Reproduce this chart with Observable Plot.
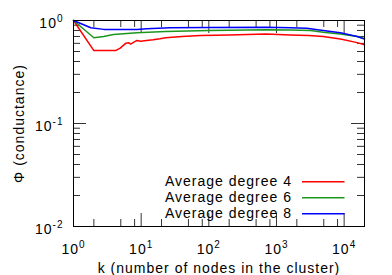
<!DOCTYPE html>
<html>
<head>
<meta charset="utf-8">
<script src="https://cdn.jsdelivr.net/npm/d3@7"></script>
<script src="https://cdn.jsdelivr.net/npm/@observablehq/plot@0.6"></script>
<style>
  html, body { margin: 0; padding: 0; background: #fff; }
</style>
</head>
<body>
<div id="chart"></div>
<script>
// ---- data ----
const seriesLabels = ["Average degree 4", "Average degree 6", "Average degree 8"];
const seriesColors = ["#ff0000", "#1c961c", "#0000ff"];

const kDeg4 = [1, 2, 4.2, 4.9, 5.9, 6.6, 7, 7.8, 8.7, 9.8, 12, 15, 19, 23, 40, 75, 200, 700, 1600, 3000, 4900, 8800, 15600, 20000];
const phiDeg4 = [1.0, 0.51, 0.51, 0.54, 0.60, 0.607, 0.59, 0.616, 0.64, 0.63, 0.64, 0.65, 0.664, 0.68, 0.70, 0.715, 0.725, 0.74, 0.725, 0.715, 0.70, 0.66, 0.61, 0.58];

const kDeg6 = [1, 2, 2.8, 3.9, 8.7, 23, 100, 700, 1600, 3200, 4900, 8800, 15600, 20000];
const phiDeg6 = [1.0, 0.68, 0.70, 0.73, 0.76, 0.78, 0.80, 0.815, 0.81, 0.80, 0.77, 0.74, 0.70, 0.67];

const kDeg8 = [1, 1.8, 2.8, 8.7, 12, 27, 100, 700, 1600, 2800, 4900, 8800, 15600, 20000];
const phiDeg8 = [1.0, 0.85, 0.82, 0.82, 0.83, 0.85, 0.855, 0.86, 0.85, 0.84, 0.80, 0.76, 0.70, 0.66];

const xMajorTicks = [1, 10, 100, 1000, 10000];
const xMinorTicks = [2, 5, 8, 20, 50, 80, 200, 500, 800, 2000, 5000, 8000];
const yMajorTicks = [0.01, 0.1, 1];
const yMinorTicks = [0.02, 0.03, 0.04, 0.05, 0.06, 0.07, 0.08, 0.09, 0.2, 0.3, 0.4, 0.5, 0.6, 0.7, 0.8, 0.9];

const xTitle = "k (number of nodes in the cluster)";
const yTitle = "Φ (conductance)";

// ---- build ----
const zip = (ks, vs, s) => ks.map((k, i) => ({k, v: vs[i], s}));
const lines = [
  zip(kDeg4, phiDeg4, 0),
  zip(kDeg6, phiDeg6, 1),
  zip(kDeg8, phiDeg8, 2)
];

const W = 392, H = 275;
const mL = 73, mR = 28, mT = 20, mB = 49;
const FW = W - mL - mR, FH = H - mT - mB;
const major = 13, minor = 7;
const tickColor = "#333";
const expFmt = d => "10^" + Math.round(Math.log10(d));

const plot = Plot.plot({
  width: W, height: H,
  marginLeft: mL, marginRight: mR, marginTop: mT, marginBottom: mB,
  style: {fontFamily: "'Liberation Sans', Arial, Helvetica, sans-serif", fontSize: "14px", letterSpacing: "1px", color: "#000", background: "#fff"},
  x: {type: "log", domain: [1, 20000]},
  y: {type: "log", domain: [0.01, 1]},
  marks: [
    // tick marks (inside, mirrored)
    Plot.tickX(xMajorTicks, {x: d => d, insetTop: FH - major, stroke: tickColor}),
    Plot.tickX(xMajorTicks, {x: d => d, insetBottom: FH - major, stroke: tickColor}),
    Plot.tickX(xMinorTicks, {x: d => d, insetTop: FH - minor, stroke: tickColor}),
    Plot.tickX(xMinorTicks, {x: d => d, insetBottom: FH - minor, stroke: tickColor}),
    Plot.tickY(yMajorTicks, {y: d => d, insetRight: FW - major, stroke: tickColor}),
    Plot.tickY(yMajorTicks, {y: d => d, insetLeft: FW - major, stroke: tickColor}),
    Plot.tickY(yMinorTicks, {y: d => d, insetRight: FW - minor, stroke: tickColor}),
    Plot.tickY(yMinorTicks, {y: d => d, insetLeft: FW - minor, stroke: tickColor}),
    // data
    ...lines.map((d, i) => Plot.line(d, {x: "k", y: "v", stroke: seriesColors[i], strokeWidth: 1.5})),
    Plot.frame({stroke: "#000", strokeWidth: 1}),
    // axes
    Plot.axisX({ticks: xMajorTicks, tickSize: 0, tickPadding: 18, tickFormat: expFmt,
      label: xTitle, labelAnchor: "center", labelOffset: 46}),
    Plot.axisY({ticks: yMajorTicks, tickSize: 0, tickPadding: 10, tickFormat: expFmt, dy: 3,
      label: yTitle, labelAnchor: "center", labelOffset: 59})
  ]
});

document.getElementById("chart").appendChild(plot);

const svg = d3.select(plot);
// remove label arrows
svg.selectAll('g[aria-label="x-axis label"] text, g[aria-label="y-axis label"] text').each(function () {
  const t = d3.select(this);
  t.text(t.text().replace(/[↑→←↓]/g, "").trim());
});
// superscripts on tick labels
svg.selectAll('g[aria-label="x-axis tick label"] text, g[aria-label="y-axis tick label"] text').each(function () {
  const t = d3.select(this);
  const s = t.text();
  if (!s.includes("^")) return;
  const [b, e] = s.split("^");
  t.text(b);
  t.append("tspan").attr("dy", "-6").attr("font-size", "10px").text(e);
});

// legend (inside plot, bottom right)
const lg = svg.append("g").attr("aria-label", "legend");
seriesLabels.forEach((lab, i) => {
  const yb = 185.7 + 16 * i;
  lg.append("text").attr("x", 292).attr("y", yb).attr("text-anchor", "end")
    .attr("fill", "#000").text(lab);
  lg.append("line").attr("x1", 302).attr("x2", 344.5)
    .attr("y1", yb - 4).attr("y2", yb - 4)
    .attr("stroke", seriesColors[i]).attr("stroke-width", 1.5);
});
</script>
</body>
</html>
